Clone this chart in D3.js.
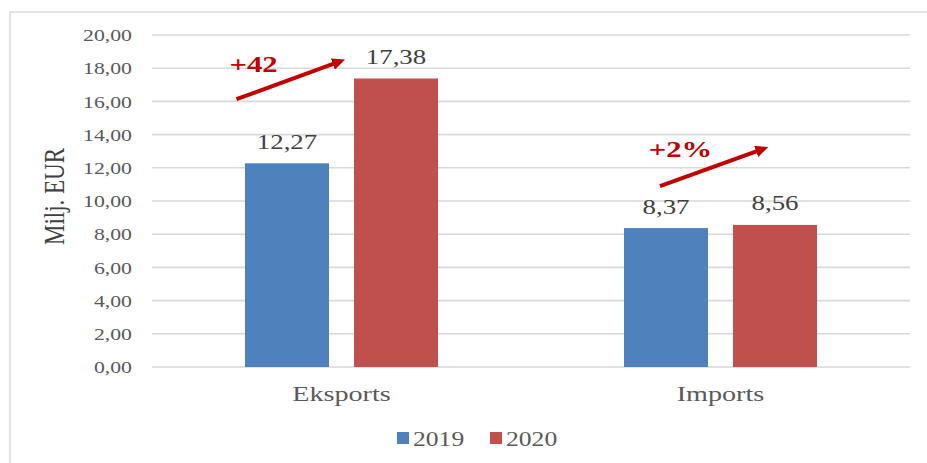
<!DOCTYPE html>
<html>
<head>
<meta charset="utf-8">
<script src="https://cdn.jsdelivr.net/npm/d3@7"></script>
<style>
  html, body { margin: 0; padding: 0; background: #fff; }
  svg { display: block; }
</style>
</head>
<body>
<svg id="chart" width="927" height="463"></svg>
<script>
// ---- data ----
const categories = ["Eksports", "Imports"];
const seriesNames = ["2019", "2020"];
const values2019 = [12.27, 8.37];
const values2020 = [17.38, 8.56];
const yTicks = [0, 2, 4, 6, 8, 10, 12, 14, 16, 18, 20];
const changeLabels = ["+42", "+2%"];
const yTitle = "Milj. EUR";

// ---- setup ----
const W = 927, H = 463;
const SX = 1.28; // horizontal text stretch seen in the reference
const FONT = "'Liberation Serif', 'Times New Roman', serif";
const colors = { "2019": "#4f81bd", "2020": "#c0504d" };
const svg = d3.select("#chart");

const plot = { left: 152, right: 910, top: 35, bottom: 367 };

const y = d3.scaleLinear().domain([0, 20]).range([plot.bottom, plot.top]);
const x0 = d3.scaleBand().domain(categories).range([plot.left, plot.right]).padding(0);
const x1 = d3.scaleBand().domain(seriesNames).range([0, x0.bandwidth()])
  .paddingInner(0.2294).paddingOuter(0.853);

const fmt = v => d3.format(".2f")(v).replace(".", ",");

function stretchedText(parent, x, yy, str, opt) {
  const t = parent.append("text")
    .attr("transform", `translate(${x},${yy}) scale(${SX},1)` + (opt.rotate ? ` rotate(${opt.rotate})` : ""))
    .attr("x", 0).attr("y", 0)
    .attr("font-family", FONT)
    .attr("font-size", opt.size)
    .attr("fill", opt.color)
    .attr("text-anchor", opt.anchor || "middle")
    .text(str);
  if (opt.weight) t.attr("font-weight", opt.weight);
  if (opt.dy) t.attr("dy", opt.dy);
  return t;
}

// frame
svg.append("rect")
  .attr("x", 10).attr("y", 12)
  .attr("width", W + 20).attr("height", H + 20)
  .attr("fill", "none").attr("stroke", "#d9d9d9").attr("stroke-width", 1.5);

// gridlines
const grid = svg.append("g");
grid.selectAll("line").data(yTicks).join("line")
  .attr("x1", plot.left).attr("x2", plot.right)
  .attr("y1", d => y(d)).attr("y2", d => y(d))
  .attr("stroke", "#d9d9d9").attr("stroke-width", 1.6);

// y tick labels
const yl = svg.append("g");
yTicks.forEach(t => {
  stretchedText(yl, 132, y(t), fmt(t), { size: 17, color: "#595959", anchor: "end", dy: "0.36em" });
});

// y title
stretchedText(svg, 64, 196.5, yTitle, { size: 23, color: "#404040", rotate: -90 });

// bars
const seriesData = { "2019": values2019, "2020": values2020 };
const groups = svg.append("g").selectAll("g").data(categories).join("g")
  .attr("transform", d => `translate(${x0(d)},0)`);

groups.each(function(cat, ci) {
  const g = d3.select(this);
  seriesNames.forEach(s => {
    const v = seriesData[s][ci];
    g.append("rect")
      .attr("x", x1(s)).attr("width", x1.bandwidth())
      .attr("y", y(v)).attr("height", y(0) - y(v))
      .attr("fill", colors[s]);
    stretchedText(g, x1(s) + x1.bandwidth() / 2, y(v) - 14.5, fmt(v), { size: 21, color: "#404040" });
  });
  // category label
  stretchedText(g, x0.bandwidth() / 2, 401, cat, { size: 22, color: "#595959" });
});

// change annotation arrows
const defs = svg.append("defs");
defs.append("marker")
  .attr("id", "arrowhead")
  .attr("markerUnits", "userSpaceOnUse")
  .attr("markerWidth", 14).attr("markerHeight", 12)
  .attr("refX", 1).attr("refY", 6)
  .attr("orient", "auto")
  .append("path").attr("d", "M0,0 L13,6 L0,12 Z").attr("fill", "#c00000");

const arrowGeom = [
  { dx1: -105, v1: 16.13, dx2: 4.5, v2: 18.54, ldx: -88, lv: 17.77 },
  { dx1: -60.5, v1: 10.9, dx2: 48.8, v2: 13.27, ldx: -40, lv: 12.65 }
];
categories.forEach((cat, i) => {
  const gGeom = arrowGeom[i];
  const cx = x0(cat) + x0.bandwidth() / 2;
  const xA = cx + gGeom.dx1, yA = y(gGeom.v1);
  const xB = cx + gGeom.dx2, yB = y(gGeom.v2);
  const len = Math.hypot(xB - xA, yB - yA);
  const k = (len - 13) / len;
  svg.append("line")
    .attr("x1", xA).attr("y1", yA)
    .attr("x2", xA + (xB - xA) * k).attr("y2", yA + (yB - yA) * k)
    .attr("stroke", "#c00000").attr("stroke-width", 4)
    .attr("marker-end", "url(#arrowhead)");
  stretchedText(svg, cx + gGeom.ldx, y(gGeom.lv), changeLabels[i],
    { size: 24, color: "#c00000", weight: "bold" });
});

// legend
const legend = svg.append("g");
const legendX = [397, 490];
seriesNames.forEach((s, i) => {
  legend.append("rect")
    .attr("x", legendX[i]).attr("y", 432)
    .attr("width", 12).attr("height", 12)
    .attr("fill", colors[s]);
  stretchedText(legend, legendX[i] + 16, 446, s, { size: 20, color: "#595959", anchor: "start" });
});
</script>
</body>
</html>
